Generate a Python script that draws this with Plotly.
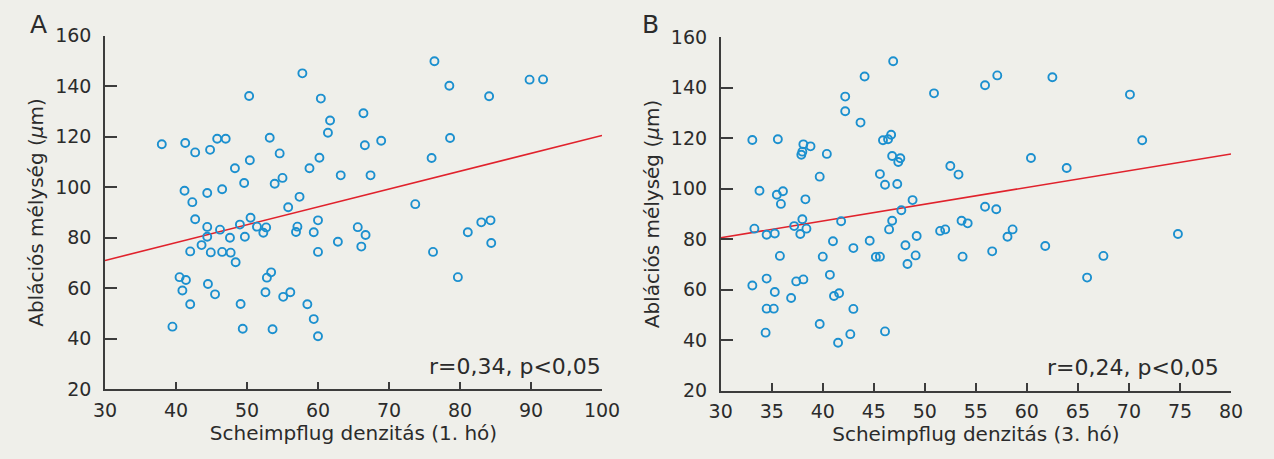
import plotly.graph_objects as go

# ---------------- Data: Panel A (1st month) ----------------
a_x = [38.0, 41.3, 42.7, 44.8, 45.8, 47.0, 50.3, 53.2, 54.6, 50.4, 48.3, 49.6, 53.9, 55.0, 57.4,
       55.8, 57.8, 60.4, 61.7, 61.4, 60.2, 58.8, 63.2, 41.2, 44.4, 46.5, 42.3, 42.7, 50.5, 60.0,
       76.4, 78.5, 84.1, 89.8, 91.7, 66.4, 66.6, 68.9, 78.6, 76.0, 67.4, 73.7, 83.0, 84.3, 44.4,
       46.2, 49.0, 51.4, 52.7, 52.3, 57.1, 56.9, 59.4, 44.4, 47.6, 49.7, 43.6, 42.0, 44.9, 46.5,
       47.7, 48.4, 60.0, 62.8, 65.6, 66.1, 40.5, 41.4, 40.9, 42.0, 44.5, 45.5, 52.8, 53.4, 52.6,
       55.1, 56.1, 49.1, 58.5, 59.4, 60.0, 39.5, 49.4, 53.6, 66.7, 76.2, 81.1, 84.4, 79.7]
a_y = [117.0, 117.5, 113.8, 114.8, 119.2, 119.2, 136.1, 119.6, 113.4, 110.7, 107.5, 101.7, 101.4, 103.7, 96.2,
       92.1, 145.1, 135.1, 126.4, 121.6, 111.7, 107.5, 104.7, 98.6, 97.7, 99.2, 94.1, 87.3, 87.9, 86.9,
       149.9, 140.2, 136.0, 142.6, 142.7, 129.3, 116.6, 118.4, 119.5, 111.6, 104.7, 93.3, 86.1, 86.9, 84.3,
       83.2, 85.2, 84.4, 84.1, 82.0, 84.4, 82.3, 82.2, 80.4, 80.0, 80.4, 77.1, 74.6, 74.2, 74.4,
       74.1, 70.3, 74.4, 78.4, 84.2, 76.5, 64.4, 63.3, 59.1, 53.7, 61.7, 57.6, 64.2, 66.3, 58.4,
       56.6, 58.4, 53.8, 53.7, 47.8, 41.0, 44.8, 44.0, 43.8, 81.1, 74.4, 82.2, 77.9, 64.4]
a_fit_x = [30, 100]
a_fit_y = [71.0, 120.5]

# ---------------- Data: Panel B (3rd month) ----------------
b_x = [33.1, 35.6, 38.1, 38.8, 38.0, 37.9, 40.4, 42.2, 42.2, 44.1, 46.9, 43.7, 50.9, 45.9, 46.4,
       46.7, 46.8, 47.6, 47.4, 52.5, 53.3, 45.6, 46.1, 47.3, 48.8, 39.7, 33.8, 35.5, 36.1, 35.9,
       38.3, 47.7, 55.9, 57.1, 62.5, 70.1, 71.3, 60.4, 63.9, 55.9, 57.0, 33.3, 34.5, 35.3, 37.2,
       38.0, 38.4, 37.8, 41.8, 35.8, 40.0, 41.0, 43.0, 44.6, 46.5, 46.8, 45.2, 45.6, 48.1, 49.2,
       49.1, 48.3, 51.5, 52.0, 53.6, 54.2, 53.7, 33.1, 34.5, 35.3, 37.4, 38.1, 36.9, 40.7, 41.1,
       41.6, 43.0, 34.5, 35.2, 39.7, 34.4, 42.7, 41.5, 46.1, 58.6, 58.1, 56.6, 61.8, 67.5, 65.9,
       74.8]
b_y = [119.3, 119.6, 117.6, 116.8, 114.7, 113.5, 113.8, 136.5, 130.7, 144.5, 150.5, 126.2, 137.8, 119.2, 119.6,
       121.4, 113.0, 112.1, 110.6, 109.0, 105.6, 105.8, 101.6, 101.9, 95.5, 104.8, 99.2, 97.6, 99.0, 94.0,
       95.8, 91.5, 141.0, 144.9, 144.2, 137.3, 119.2, 112.2, 108.2, 92.9, 91.9, 84.2, 81.8, 82.3, 85.2,
       87.9, 84.2, 82.1, 87.1, 73.4, 73.1, 79.2, 76.5, 79.4, 83.9, 87.3, 73.0, 73.1, 77.6, 81.3,
       73.6, 70.2, 83.3, 83.9, 87.3, 86.3, 73.1, 61.7, 64.4, 59.1, 63.3, 64.1, 56.7, 65.9, 57.5,
       58.6, 52.4, 52.5, 52.5, 46.4, 43.0, 42.4, 39.0, 43.5, 83.9, 81.0, 75.2, 77.3, 73.4, 64.8,
       82.1]
b_fit_x = [30, 80]
b_fit_y = [80.6, 113.8]

y_ticks = [20, 40, 60, 80, 100, 120, 140, 160]
a_x_ticks = [30, 40, 50, 60, 70, 80, 90, 100]
b_x_ticks = [30, 35, 40, 45, 50, 55, 60, 65, 70, 75, 80]

x_title_a = "Scheimpflug denzitás (1. hó)"
x_title_b = "Scheimpflug denzitás (3. hó)"
y_title = "Ablációs mélység (<i>µ</i>m)"
stat_a = "r=0,34, p<0,05"
stat_b = "r=0,24, p<0,05"

# ---------------- Styles ----------------
BG = "#efefea"
TXT = "#2b2b2b"
AX = "#3c3c3c"
DOT = "#1c90cf"
LINE = "#e0222c"
FONT = "DejaVu Sans"
W, H = 1274, 459

fig = go.Figure()

def add_panel(xs, ys, fx, fy, xa, ya):
    fig.add_trace(go.Scatter(x=fx, y=fy, mode="lines", xaxis=xa, yaxis=ya,
                             line=dict(color=LINE, width=1.6), showlegend=False, hoverinfo="skip"))
    fig.add_trace(go.Scatter(x=xs, y=ys, mode="markers", xaxis=xa, yaxis=ya,
                             marker=dict(symbol="circle-open", size=8, color=DOT,
                                         line=dict(width=1.9, color=DOT)),
                             showlegend=False))

add_panel(a_x, a_y, a_fit_x, a_fit_y, "x", "y")
add_panel(b_x, b_y, b_fit_x, b_fit_y, "x2", "y2")

def xaxis_cfg(domain, rng, ticks, title, anchor):
    return dict(domain=domain, range=rng, tickvals=ticks, ticktext=[str(t) for t in ticks],
                showline=True, linecolor=AX, linewidth=1.6, mirror=False,
                ticks="inside", ticklen=8, tickwidth=1.6, tickcolor=AX,
                showgrid=False, zeroline=False, anchor=anchor,
                tickfont=dict(family=FONT, size=19, color=TXT), ticklabelstandoff=3,
                title=dict(text=title, font=dict(family=FONT, size=20, color=TXT), standoff=5),
                fixedrange=True)

def yaxis_cfg(domain, anchor):
    return dict(domain=domain, range=[20, 160], tickvals=y_ticks, ticktext=[str(t) for t in y_ticks],
                showline=True, linecolor=AX, linewidth=1.6, mirror=False,
                ticks="inside", ticklen=12, tickwidth=1.6, tickcolor=AX,
                showgrid=False, zeroline=False, anchor=anchor,
                tickfont=dict(family=FONT, size=19, color=TXT), ticklabelstandoff=8,
                title=dict(text=y_title, font=dict(family=FONT, size=20, color=TXT), standoff=6),
                fixedrange=True)

fig.update_layout(
    width=W, height=H,
    margin=dict(l=0, r=0, t=0, b=0, autoexpand=False),
    paper_bgcolor=BG, plot_bgcolor=BG,
    xaxis=xaxis_cfg([105 / W, 602 / W], [30, 100], a_x_ticks, x_title_a, "y"),
    yaxis=yaxis_cfg([1 - 389.3 / H, 1 - 35.7 / H], "x"),
    xaxis2=xaxis_cfg([720.7 / W, 1231 / W], [30, 80], b_x_ticks, x_title_b, "y2"),
    yaxis2=yaxis_cfg([1 - 390.7 / H, 1 - 37.3 / H], "x2"),
    annotations=[
        dict(text=stat_a, xref="paper", yref="y", x=603 / W, y=23.2, xanchor="right", yanchor="bottom",
             showarrow=False, font=dict(family=FONT, size=22, color=TXT)),
        dict(text=stat_b, xref="x2", yref="y2", x=79.0, y=23.6, xanchor="right", yanchor="bottom",
             showarrow=False, font=dict(family=FONT, size=22, color=TXT)),
        dict(text="A", xref="paper", yref="paper", x=38 / W, y=1 - 24 / H, xanchor="center",
             yanchor="middle", showarrow=False, font=dict(family=FONT, size=25, color=TXT)),
        dict(text="B", xref="paper", yref="paper", x=650 / W, y=1 - 24 / H, xanchor="center",
             yanchor="middle", showarrow=False, font=dict(family=FONT, size=25, color=TXT)),
    ],
)

fig.write_html("out.html")
